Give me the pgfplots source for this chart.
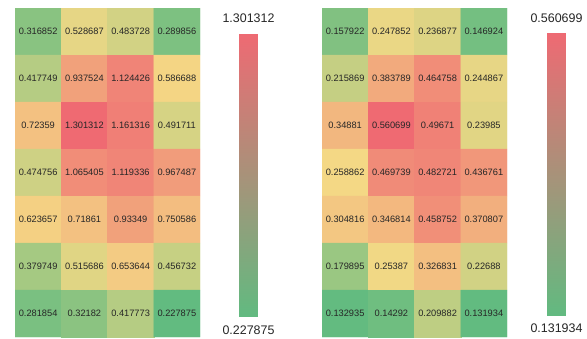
\documentclass[border=0pt]{standalone}
\usepackage{pgfplots}
\pgfplotsset{compat=1.18}
\usepackage{pgfplotstable}
\usepackage{fontspec}
\setmainfont{Liberation Sans}

\pgfplotstableread{
x y c lbl
0 0 0.316852 0.316852
1 0 0.528687 0.528687
2 0 0.483728 0.483728
3 0 0.289856 0.289856
0 1 0.417749 0.417749
1 1 0.937524 0.937524
2 1 1.124426 1.124426
3 1 0.586688 0.586688
0 2 0.72359 0.72359
1 2 1.301312 1.301312
2 2 1.161316 1.161316
3 2 0.491711 0.491711
0 3 0.474756 0.474756
1 3 1.065405 1.065405
2 3 1.119336 1.119336
3 3 0.967487 0.967487
0 4 0.623657 0.623657
1 4 0.71861 0.71861
2 4 0.93349 0.93349
3 4 0.750586 0.750586
0 5 0.379749 0.379749
1 5 0.515686 0.515686
2 5 0.653644 0.653644
3 5 0.456732 0.456732
0 6 0.281854 0.281854
1 6 0.32182 0.32182
2 6 0.417773 0.417773
3 6 0.227875 0.227875
}\tableA

\pgfplotstableread{
x y c lbl
0 0 0.157922 0.157922
1 0 0.247852 0.247852
2 0 0.236877 0.236877
3 0 0.146924 0.146924
0 1 0.215869 0.215869
1 1 0.383789 0.383789
2 1 0.464758 0.464758
3 1 0.244867 0.244867
0 2 0.34881 0.34881
1 2 0.560699 0.560699
2 2 0.49671 0.49671
3 2 0.23985 0.23985
0 3 0.258862 0.258862
1 3 0.469739 0.469739
2 3 0.482721 0.482721
3 3 0.436761 0.436761
0 4 0.304816 0.304816
1 4 0.346814 0.346814
2 4 0.458752 0.458752
3 4 0.370807 0.370807
0 5 0.179895 0.179895
1 5 0.25387 0.25387
2 5 0.326831 0.326831
3 5 0.22688 0.22688
0 6 0.132935 0.132935
1 6 0.14292 0.14292
2 6 0.209882 0.209882
3 6 0.131934 0.131934
}\tableB

\pgfplotsset{
  heat/.style={
    anchor=south west, width=185bp, height=329bp, scale only axis, hide axis,
    xmin=-0.5, xmax=3.5, ymin=-0.5, ymax=6.5, y dir=reverse,
  },
  cellplot/.style={
    matrix plot*, mesh/cols=4, point meta=explicit,
  },
  labelplot/.style={
    only marks, mark=none, point meta=explicit symbolic,
    nodes near coords,
    every node near coord/.append style={anchor=center, font=\fontsize{9.3}{10}\selectfont, text=black!85, inner sep=0pt},
  },
  cbar/.style={
    anchor=south west, width=19bp, height=282bp, scale only axis, hide axis,
    xmin=0, xmax=1, ymin=0, ymax=1, view={0}{90},
    colormap={cbmap}{rgb255=(98,186,128) rgb255=(238,106,115)},
  },
}

\begin{document}
\begin{tikzpicture}[x=1bp,y=1bp]
\useasboundingbox (0,0) rectangle (587,338);

\begin{axis}[heat, at={(15bp,1bp)},
  colormap={mapA}{rgb255(0pt)=(98,187,128); rgb255(31pt)=(244,217,133); rgb255(100pt)=(239,106,114)},
  point meta min=0.227875, point meta max=1.301312]
\addplot[cellplot] table[x=x,y=y,meta=c]{\tableA};
\addplot[labelplot] table[x=x,y=y,meta=lbl]{\tableA};
\end{axis}

\begin{axis}[heat, at={(322bp,1bp)},
  colormap={mapB}{rgb255(0pt)=(98,187,128); rgb255(29pt)=(244,217,133); rgb255(100pt)=(239,106,114)},
  point meta min=0.131934, point meta max=0.560699]
\addplot[cellplot] table[x=x,y=y,meta=c]{\tableB};
\addplot[labelplot] table[x=x,y=y,meta=lbl]{\tableB};
\end{axis}

\begin{axis}[cbar, at={(239bp,22bp)}]
\addplot3[surf, shader=interp, mesh/cols=2, point meta=z] coordinates {(0,0,0) (1,0,0) (0,1,1) (1,1,1)};
\end{axis}

\begin{axis}[cbar, at={(547bp,23bp)}]
\addplot3[surf, shader=interp, mesh/cols=2, point meta=z] coordinates {(0,0,0) (1,0,0) (0,1,1) (1,1,1)};
\end{axis}

\node[font=\fontsize{12.5}{14}\selectfont, text=black!85] at (248.5,320) {1.301312};
\node[font=\fontsize{12.5}{14}\selectfont, text=black!85] at (248.5,8) {0.227875};
\node[font=\fontsize{12.5}{14}\selectfont, text=black!85] at (556.5,320) {0.560699};
\node[font=\fontsize{12.5}{14}\selectfont, text=black!85] at (556.5,10) {0.131934};
\end{tikzpicture}
\end{document}
